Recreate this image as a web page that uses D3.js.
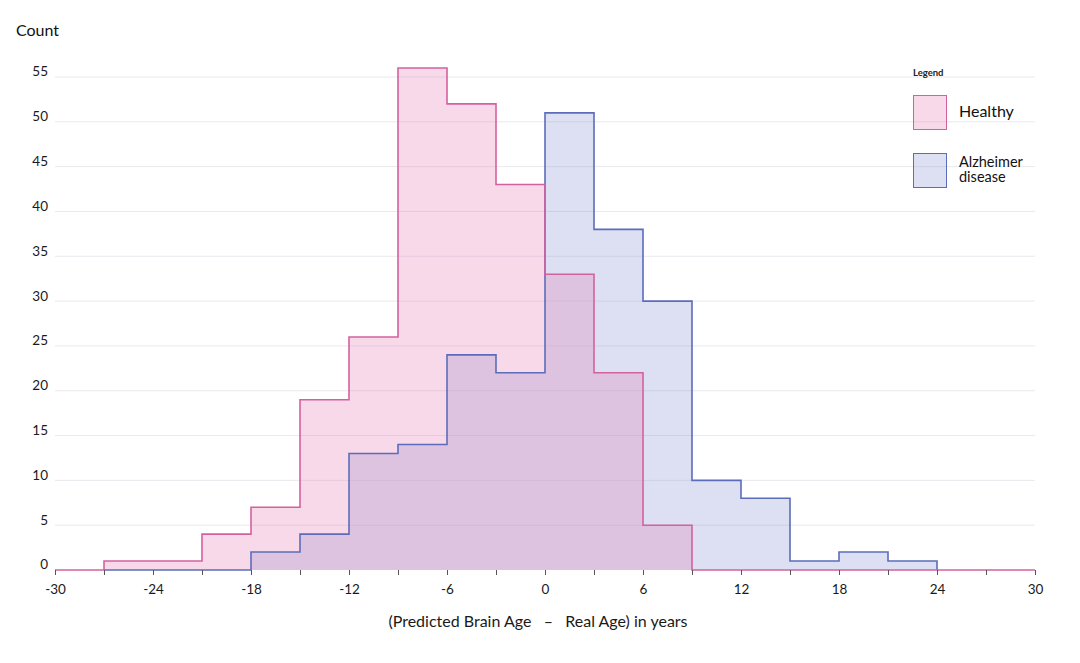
<!DOCTYPE html>
<html>
<head>
<meta charset="utf-8">
<script src="https://cdn.jsdelivr.net/npm/d3@7"></script>
<style>
  html, body { margin: 0; padding: 0; background: #fff; }
  svg { display: block; font-family: Lato, "Open Sans", sans-serif; }
</style>
</head>
<body>
<svg id="chart" width="1080" height="663"></svg>
<script>
// ---- data ----
const binWidth = 3;
const healthyStarts = [-30, -27, -24, -21, -18, -15, -12, -9, -6, -3, 0, 3, 6, 9, 12, 15, 18, 21, 24, 27];
const healthyCounts = [0, 1, 1, 4, 7, 19, 26, 56, 52, 43, 33, 22, 5, 0, 0, 0, 0, 0, 0, 0];
const alzStarts = [-27, -24, -21, -18, -15, -12, -9, -6, -3, 0, 3, 6, 9, 12, 15, 18, 21];
const alzCounts = [0, 0, 0, 2, 4, 13, 14, 24, 22, 51, 38, 30, 10, 8, 1, 2, 1];
const xTickValues = [-30, -27, -24, -21, -18, -15, -12, -9, -6, -3, 0, 3, 6, 9, 12, 15, 18, 21, 24, 27, 30];
const xTickLabels = [-30, -24, -18, -12, -6, 0, 6, 12, 18, 24, 30];
const yTickValues = [0, 5, 10, 15, 20, 25, 30, 35, 40, 45, 50, 55];
const seriesNames = ["Healthy", "Alzheimer disease"];

const svg = d3.select("#chart");
const x = d3.scaleLinear().domain([-30, 30]).range([55, 1035]);
const y = d3.scaleLinear().domain([0, 55]).range([570, 77]);

const colors = {
  healthy: { stroke: "#d4619f", fill: "rgb(228,130,186)" },
  alz: { stroke: "#5b6dba", fill: "rgb(140,152,212)" }
};

// gridlines
svg.append("g")
  .selectAll("line")
  .data(yTickValues.filter(d => d > 0))
  .join("line")
  .attr("x1", x(-30)).attr("x2", x(30))
  .attr("y1", d => y(d)).attr("y2", d => y(d))
  .attr("stroke", "#e9e9ee").attr("stroke-width", 1);

// y labels
svg.append("g")
  .selectAll("text")
  .data(yTickValues)
  .join("text")
  .attr("x", 48).attr("y", d => y(d) - 4)
  .attr("text-anchor", "end").attr("dominant-baseline", "middle")
  .attr("font-size", 13.5).attr("fill", "#1a1a1a")
  .text(d => d);

svg.append("text").attr("x", 16).attr("y", 36)
  .attr("font-size", 16).attr("fill", "#111").text("Count");

function stepPoints(starts, counts) {
  const pts = [[starts[0], 0]];
  starts.forEach((s, i) => {
    pts.push([s, counts[i]]);
    pts.push([s + binWidth, counts[i]]);
  });
  pts.push([starts[starts.length - 1] + binWidth, 0]);
  return pts;
}

const area = d3.area().x(d => x(d[0])).y0(y(0)).y1(d => y(d[1]));
const line = d3.line().x(d => x(d[0])).y(d => y(d[1]));

const alzPts = stepPoints(alzStarts, alzCounts);
const healthyPts = stepPoints(healthyStarts, healthyCounts);

svg.append("path").datum(alzPts).attr("d", area)
  .attr("fill", colors.alz.fill).attr("fill-opacity", 0.3);
svg.append("path").datum(healthyPts).attr("d", area)
  .attr("fill", colors.healthy.fill).attr("fill-opacity", 0.3);
svg.append("path").datum(alzPts).attr("d", line)
  .attr("fill", "none").attr("stroke", colors.alz.stroke).attr("stroke-width", 1.6);
svg.append("path").datum(healthyPts).attr("d", line)
  .attr("fill", "none").attr("stroke", colors.healthy.stroke).attr("stroke-width", 1.6);

// x axis
const xAxis = d3.axisBottom(x)
  .tickValues(xTickValues)
  .tickSize(5)
  .tickFormat(d => xTickLabels.includes(d) ? d : "");
const gx = svg.append("g").attr("transform", `translate(0,${y(0)})`).call(xAxis);
gx.select(".domain").remove();
gx.selectAll(".tick line").attr("stroke", "#555");
gx.selectAll(".tick text").attr("font-size", 13.5).attr("fill", "#1a1a1a")
  .attr("font-family", "Lato, 'Open Sans', sans-serif").attr("dy", "1.2em");

svg.append("text").attr("x", 538).attr("y", 627)
  .attr("text-anchor", "middle").attr("font-size", 16).attr("fill", "#1a1a1a")
  .attr("xml:space", "preserve")
  .text("(Predicted Brain Age   \u2013   Real Age) in years");

// legend
const lg = svg.append("g");
lg.append("text").attr("x", 913).attr("y", 76).attr("font-size", 9.5)
  .attr("font-weight", "bold").attr("fill", "#222").text("Legend");
const legendItems = [
  { key: "healthy", name: seriesNames[0], y: 95, lines: ["Healthy"] },
  { key: "alz", name: seriesNames[1], y: 153, lines: ["Alzheimer", "disease"] }
];
legendItems.forEach(it => {
  lg.append("rect").attr("x", 913.5).attr("y", it.y + 0.5).attr("width", 33).attr("height", 34)
    .attr("fill", colors[it.key].fill).attr("fill-opacity", 0.3)
    .attr("stroke", colors[it.key].stroke).attr("stroke-width", 1);
  if (it.lines.length === 1) {
    lg.append("text").attr("x", 959).attr("y", it.y + 22)
      .attr("font-size", 16).attr("fill", "#111").text(it.lines[0]);
  } else {
    it.lines.forEach((l, i) => {
      lg.append("text").attr("x", 959).attr("y", it.y + 14 + i * 15)
        .attr("font-size", 14.5).attr("fill", "#111").text(l);
    });
  }
});
</script>
</body>
</html>
